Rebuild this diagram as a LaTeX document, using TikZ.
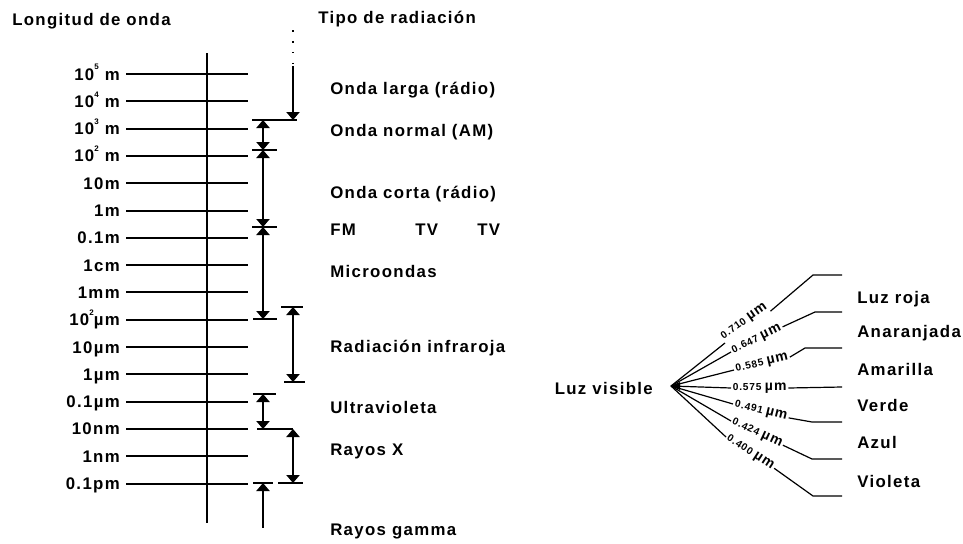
\documentclass[tikz,border=0pt]{standalone}
\usepackage{fontspec}
\setmainfont{Liberation Sans}[LetterSpace=8,UprightFont=*-Bold]
\usetikzlibrary{arrows.meta}
\newcommand\supx[1]{\raisebox{0.6em}{\fontsize{6}{7}\selectfont #1}}
\newcommand\mum{{\fontsize{10.5}{12}\selectfont µm}}
\begin{document}
\begin{tikzpicture}[x=0.75pt,y=-0.75pt,
  txt/.style={font=\fontsize{12.6}{15}\selectfont, inner sep=0pt},
  tickline/.style={line width=1.5pt},
  axis/.style={line width=2.2pt},
  bar/.style={line width=0.9pt},
  arr/.style={line width=0.8pt},
  dbl/.style={arr, arrows={Triangle[width=10pt,length=6pt]-Triangle[width=10pt,length=6pt]}},
  onetip/.style={arr, arrows={-Triangle[width=10pt,length=6pt]}},
  fan/.style={line width=0.9pt},
  small/.style={font=\fontsize{7.6}{9}\selectfont, inner sep=1.2pt}]
\useasboundingbox (0,0) rectangle (963,543);

% headers
\node[txt, anchor=base west] (hl) at (12,25) {Longitud de onda};
\node[txt, anchor=base west] (hr) at (318,23) {Tipo de radiación};

% axis
\coordinate (ax1) at (207,53);
\coordinate (ax2) at (207,523);
\draw[axis] (ax1) -- (ax2);

% scale rows
\foreach \i/\t in {0/{10\supx{5} m},1/{10\supx{4} m},2/{10\supx{3} m},3/{10\supx{2} m},
  4/{10m},5/{1m},6/{0.1m},7/{1cm},8/{1mm},9/{10\supx{2}µm},10/{10µm},11/{1µm},
  12/{0.1µm},13/{10nm},14/{1nm},15/{0.1pm}}{
  \pgfmathsetmacro\yy{74+27.3*\i}
  \node[txt, anchor=base east] (lab\i) at (120,\yy+6) {\t};
  \coordinate (tl\i) at (126,\yy);
  \coordinate (tr\i) at (248,\yy);
  \draw[tickline] (tl\i) -- (tr\i);
}

% radiation ranges
% long wave (from above)
\coordinate (lw0) at (293,30);
\coordinate (lw1) at (293,66);
\coordinate (lw2) at (293,120);
\draw[arr, dash pattern=on 1.2pt off 7pt] (lw0) -- (lw1);
\draw[onetip] (lw1) -- (lw2);
\coordinate (b1a) at (252,120); \coordinate (b1b) at (297,120);
\draw[bar] (b1a) -- (b1b);
% AM
\coordinate (am1) at (263,120); \coordinate (am2) at (263,150);
\draw[dbl] (am1) -- (am2);
\coordinate (b2a) at (252,150); \coordinate (b2b) at (277,150);
\draw[bar] (b2a) -- (b2b);
% short wave
\coordinate (sw1) at (263,150); \coordinate (sw2) at (263,227);
\draw[dbl] (sw1) -- (sw2);
\coordinate (b3a) at (252,227); \coordinate (b3b) at (277,227);
\draw[bar] (b3a) -- (b3b);
% microwaves
\coordinate (mw1) at (263,227); \coordinate (mw2) at (263,319);
\draw[dbl] (mw1) -- (mw2);
\coordinate (b4a) at (253,319); \coordinate (b4b) at (277,319);
\draw[bar] (b4a) -- (b4b);
% infrared
\coordinate (ir1) at (293,307); \coordinate (ir2) at (293,382);
\draw[dbl] (ir1) -- (ir2);
\coordinate (b5a) at (281,307); \coordinate (b5b) at (303,307);
\draw[bar] (b5a) -- (b5b);
\coordinate (b6a) at (284,382); \coordinate (b6b) at (305,382);
\draw[bar] (b6a) -- (b6b);
% ultraviolet
\coordinate (uv1) at (263,394); \coordinate (uv2) at (263,429);
\draw[dbl] (uv1) -- (uv2);
\coordinate (b7a) at (253,394); \coordinate (b7b) at (276,394);
\draw[bar] (b7a) -- (b7b);
\coordinate (b8a) at (257,429); \coordinate (b8b) at (293,429);
\draw[bar] (b8a) -- (b8b);
% X rays
\coordinate (xr1) at (293,429); \coordinate (xr2) at (293,483);
\draw[dbl] (xr1) -- (xr2);
\coordinate (b9a) at (278,483); \coordinate (b9b) at (303,483);
\draw[bar] (b9a) -- (b9b);
% gamma
\coordinate (gm1) at (263,483); \coordinate (gm2) at (263,528);
\draw[arr, arrows={Triangle[width=10pt,length=6pt]-}] (gm1) -- (gm2);
\coordinate (b10a) at (253,483); \coordinate (b10b) at (273,483);
\draw[bar] (b10a) -- (b10b);

% radiation labels
\node[txt, anchor=base west] (r1) at (330,94) {Onda larga (rádio)};
\node[txt, anchor=base west] (r2) at (330,136) {Onda normal (AM)};
\node[txt, anchor=base west] (r3) at (330,198) {Onda corta (rádio)};
\node[txt, anchor=base west] (r4) at (330,235) {FM};
\node[txt, anchor=base west] (r5) at (415,235) {TV};
\node[txt, anchor=base west] (r6) at (477,235) {TV};
\node[txt, anchor=base west] (r7) at (330,277) {Microondas};
\node[txt, anchor=base west] (r8) at (330,352) {Radiación infraroja};
\node[txt, anchor=base west] (r9) at (330,413) {Ultravioleta};
\node[txt, anchor=base west] (r10) at (330,455) {Rayos X};
\node[txt, anchor=base west] (r11) at (330,535) {Rayos gamma};

% visible light fan
\node[txt, anchor=base east] (lv) at (653,394) {Luz visible};
\coordinate (O) at (671,386);
\fill (O) -- (680,382) -- (680,390) -- cycle;

\node[small, rotate=35, anchor=south west, inner sep=0.5pt] (f1) at (725,343) {0.710\,\,\mum};
\node[small, rotate=26, anchor=west] (f2) at (731,352) {0.647\,\,\mum};
\node[small, rotate=13, anchor=west] (f3) at (734,370) {0.585\,\,\mum};
\node[small, rotate=0, anchor=west] (f4) at (731,388) {0.575\,\,\mum};
\node[small, rotate=-14, anchor=west] (f5) at (733,404) {0.491\,\,\mum};
\node[small, rotate=-25, anchor=west] (f6) at (731,421) {0.424\,\,\mum};
\node[small, rotate=-33, anchor=west] (f7) at (726,437) {0.400\,\,\mum};

\coordinate (c1) at (813,275); \coordinate (d1) at (842,275);
\coordinate (c2) at (815,312); \coordinate (d2) at (842,312);
\coordinate (c3) at (805,348); \coordinate (d3) at (842,348);
\coordinate (d4) at (842,387);
\coordinate (c5) at (812,422); \coordinate (d5) at (842,422);
\coordinate (c6) at (812,459); \coordinate (d6) at (842,459);
\coordinate (c7) at (813,496); \coordinate (d7) at (842,496);

\draw[fan] (O) -- (f1.south west);
\foreach \k in {2,...,7}{\draw[fan] (O) -- (f\k.west);}
\draw[fan] (f1.south east) -- (c1) -- (d1);
\foreach \k in {2,3,5,6,7}{\draw[fan] (f\k.east) -- (c\k) -- (d\k);}
\draw[fan] (f4.east) -- (d4);

\node[txt, anchor=base west] (v1) at (857,303) {Luz roja};
\node[txt, anchor=base west] (v2) at (857,337) {Anaranjada};
\node[txt, anchor=base west] (v3) at (857,375) {Amarilla};
\node[txt, anchor=base west] (v4) at (857,411) {Verde};
\node[txt, anchor=base west] (v5) at (857,448) {Azul};
\node[txt, anchor=base west] (v6) at (857,487) {Violeta};
\end{tikzpicture}
\end{document}
